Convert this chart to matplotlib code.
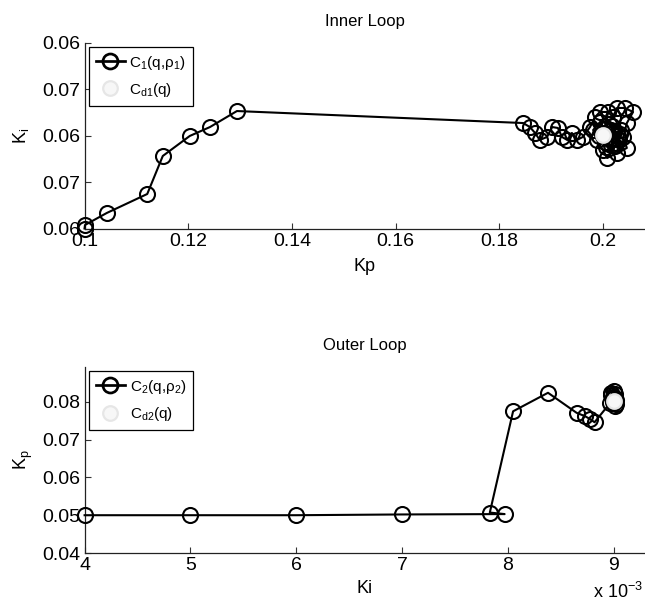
import matplotlib
matplotlib.use("Agg")
import matplotlib.pyplot as plt
from matplotlib.lines import Line2D

plt.rcParams['font.family'] = ['Liberation Sans', 'DejaVu Sans']
plt.rcParams['mathtext.fontset'] = 'custom'
plt.rcParams['mathtext.rm'] = 'Liberation Sans'
plt.rcParams['mathtext.it'] = 'Liberation Sans'
plt.rcParams['mathtext.default'] = 'regular'

# ---------------- data ----------------
# Inner loop: (Kp, Ki) trajectory of C1(q, rho1)
inner_kp = [0.1000, 0.1001, 0.1043, 0.1121, 0.1151, 0.1203, 0.1242, 0.1294,
            0.1846, 0.1859, 0.1869, 0.1878, 0.1892, 0.1902, 0.1913, 0.1921,
            0.1931, 0.1940, 0.1950, 0.1961, 0.1975, 0.1985, 0.1994, 0.2010,
            0.2019, 0.2027, 0.2042, 0.2058, 0.2046, 0.2039, 0.2046, 0.2027,
            0.2008, 0.2000, 0.1988, 0.1981, 0.1995, 0.2012, 0.2022, 0.2030,
            0.2015, 0.2003, 0.1992, 0.2005, 0.2020, 0.2035, 0.2025, 0.2010,
            0.1998, 0.2013, 0.2028, 0.2018, 0.2006, 0.2024, 0.2032, 0.2016,
            0.2002]
inner_ki = [0.05000, 0.05038, 0.05167, 0.05371, 0.05780, 0.05995, 0.06091, 0.06263,
            0.06134, 0.06091, 0.06027, 0.05952, 0.05984, 0.06091, 0.06081, 0.05984,
            0.05952, 0.06027, 0.05952, 0.05984, 0.06091, 0.06199, 0.06253, 0.06253,
            0.06199, 0.06296, 0.06296, 0.06253, 0.06134, 0.05984, 0.05866, 0.05812,
            0.05758, 0.05844, 0.05952, 0.06059, 0.06150, 0.06120, 0.06050, 0.05950,
            0.05900, 0.05930, 0.06000, 0.06080, 0.06020, 0.06060, 0.05920, 0.05980,
            0.06030, 0.05960, 0.06000, 0.06100, 0.05880, 0.05890, 0.06020, 0.06060,
            0.06010]
inner_ref_kp = [0.2000]
inner_ref_ki = [0.0601]
inner_yticks = [0.05, 0.055, 0.06, 0.065, 0.07]
inner_yticklabels = ['0.06', '0.07', '0.06', '0.07', '0.06']
inner_xticks = [0.10, 0.12, 0.14, 0.16, 0.18, 0.20]
inner_xticklabels = ['0.1', '0.12', '0.14', '0.16', '0.18', '0.2']

# Outer loop: (Ki x1e-3, Kp) trajectory of C2(q, rho2)
outer_ki = [4.00, 5.00, 6.00, 7.00, 7.97, 7.83, 8.05, 8.38, 8.65, 8.73, 8.78, 8.82,
            8.97, 8.99, 8.98, 9.00, 9.01, 9.02, 9.02, 9.01, 8.99, 9.00, 9.01, 8.98,
            9.00, 9.00]
outer_kp = [0.0500, 0.0500, 0.0500, 0.0502, 0.0503, 0.0507, 0.0775, 0.0824, 0.0771,
            0.0762, 0.0754, 0.0746, 0.0798, 0.0812, 0.0824, 0.0828, 0.0820, 0.0806,
            0.0794, 0.0790, 0.0800, 0.0812, 0.0802, 0.0818, 0.0810, 0.0798]
outer_ref_ki = [9.00]
outer_ref_kp = [0.0801]
outer_yticks = [0.04, 0.05, 0.06, 0.07, 0.08]
outer_yticklabels = ['0.04', '0.05', '0.06', '0.07', '0.08']
outer_xticks = [4, 5, 6, 7, 8, 9]

# ---------------- figure ----------------
W, H = 645, 604
fig = plt.figure(figsize=(W / 100, H / 100), dpi=100)

def px_rect(left, top, right, bottom):
    return [left / W, 1 - bottom / H, (right - left) / W, (bottom - top) / H]

ax1 = fig.add_axes(px_rect(84.5, 42.5, 645, 228.5))
ax2 = fig.add_axes(px_rect(84.6, 366.7, 645, 553))

ms = 10.8
mew = 1.5
lw = 1.5
ref_style = dict(marker='o', linestyle='none', markersize=10.5,
                 markerfacecolor='#f7f7f7', markeredgecolor='#e6e6e6',
                 markeredgewidth=1.6)

def style(ax):
    for s in ['top', 'right']:
        ax.spines[s].set_visible(False)
    for s in ['left', 'bottom']:
        ax.spines[s].set_linewidth(0.9)
        ax.spines[s].set_color('#222222')
    ax.tick_params(direction='in', length=4, width=0.8, color='#333333',
                   labelsize=14, top=False, right=False, pad=3)

# top
ax1.plot(inner_kp, inner_ki, color='black', lw=lw, marker='o', ms=ms,
         mfc='none', mec='black', mew=mew, clip_on=False, zorder=3)
ax1.plot(inner_ref_kp, inner_ref_ki, clip_on=False, zorder=4, **ref_style)
ax1.set_xlim(0.1, 0.1 + (645 - 84.5) / 5185)
ax1.set_ylim(0.05, 0.07)
ax1.set_xticks(inner_xticks)
ax1.set_xticklabels(inner_xticklabels)
ax1.set_yticks(inner_yticks)
ax1.set_yticklabels(inner_yticklabels)
style(ax1)
ax1.set_title('Inner Loop', fontsize=12, pad=12)
ax1.set_xlabel('Kp', fontsize=13, labelpad=6)
ax1.set_ylabel('K$_i$', fontsize=13, labelpad=8)

# bottom
ax2.plot(outer_ki, outer_kp, color='black', lw=lw, marker='o', ms=ms,
         mfc='none', mec='black', mew=mew, clip_on=False, zorder=3)
ax2.plot(outer_ref_ki, outer_ref_kp, clip_on=False, zorder=4, **ref_style)
ax2.set_xlim(4, 4 + (645 - 84.6) / 105.8)
ax2.set_ylim(0.04, 0.0893)
ax2.set_xticks(outer_xticks)
ax2.set_yticks(outer_yticks)
ax2.set_yticklabels(outer_yticklabels)
style(ax2)
ax2.set_title('Outer Loop', fontsize=12, pad=12)
ax2.set_xlabel('Ki', fontsize=13, labelpad=4)
ax2.set_ylabel('K$_p$', fontsize=13, labelpad=5)
fig.text(643 / W, 1 - 598 / H, 'x 10$^{-3}$', fontsize=13, ha='right', va='baseline')

def legend(ax, lab1, lab2):
    h1 = Line2D([], [], color='black', lw=lw * 1.3, marker='o', ms=ms,
                mfc='none', mec='black', mew=mew * 1.3)
    h2 = Line2D([], [], **ref_style)
    ax_h = ax.get_position().height * H
    ax_w = ax.get_position().width * W
    leg = ax.legend([h1, h2], [lab1, lab2], loc='upper left',
                    bbox_to_anchor=(4.5 / ax_w, 1 - 4.2 / ax_h),
                    borderaxespad=0, fancybox=False, framealpha=1,
                    edgecolor='black', fontsize=11, handlelength=1.9,
                    handletextpad=0.3, borderpad=0.45, labelspacing=0.6)
    leg.get_frame().set_linewidth(0.9)
    return leg

legend(ax1, 'C$_1$(q,ρ$_1$)', 'C$_{d1}$(q)')
legend(ax2, 'C$_2$(q,ρ$_2$)', 'C$_{d2}$(q)')

fig.savefig('out.png', dpi=100)
